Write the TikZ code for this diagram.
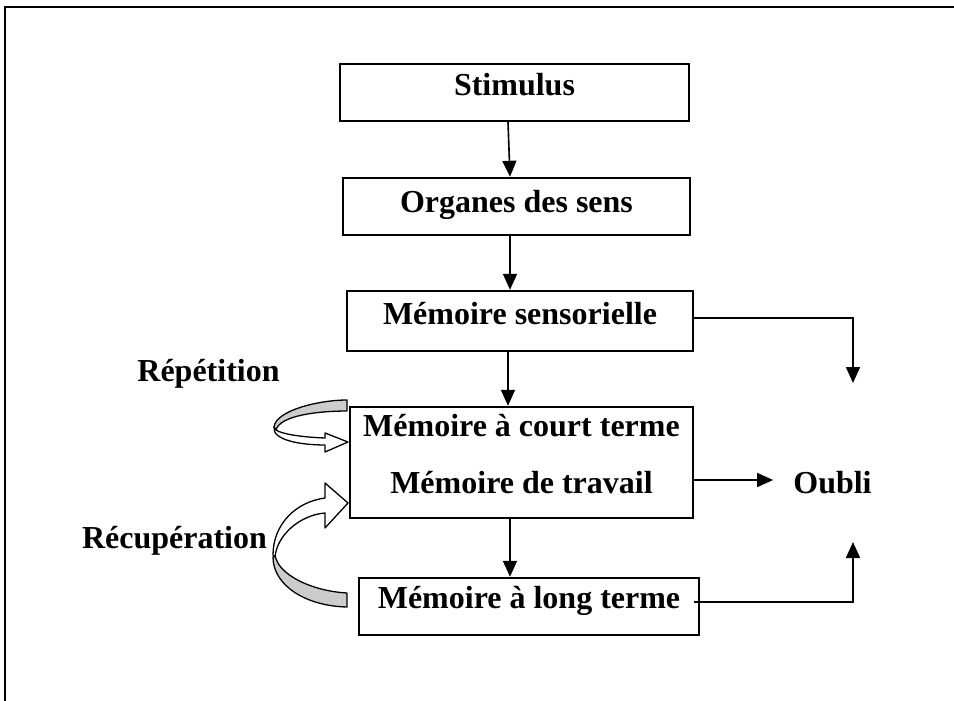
\documentclass[tikz,border=0pt]{standalone}
\usepackage{fontspec}
\setmainfont{Liberation Serif}
\usetikzlibrary{arrows.meta}
\definecolor{bandgray}{RGB}{204,204,204}
\begin{document}
\begin{tikzpicture}[x=1pt,y=-1pt,
  box/.style={draw, line width=2.4pt, inner sep=0pt, font=\fontsize{32}{56.5}\selectfont\bfseries},
  lbl/.style={inner sep=0pt, font=\fontsize{32}{38}\selectfont\bfseries},
  arr/.style={line width=1.6pt, -{Triangle[length=16pt,width=14pt]}},
  band/.style={draw, line width=1.3pt, line join=round}]
\useasboundingbox (0,0) rectangle (954,701);
\draw[line width=2.2pt] (5,701) -- (5,7) -- (954,7);

\node[box, minimum width=349pt, text height=31.5pt, text depth=25.5pt] (stim) at (514.5,92.5) {Stimulus};
\node[box, minimum width=347pt, text height=34pt, text depth=23pt] (org) at (516.5,206.5) {Organes des sens};
\node[box, minimum width=346pt, text height=33.5pt, text depth=26.5pt] (sens) at (520,321) {Mémoire sensorielle};
\node[box, minimum width=343pt, text height=86pt, text depth=25pt, align=center] (court) at (521.5,462.5) {Mémoire à court terme\\Mémoire de travail};
\node[box, minimum width=340pt, text height=30pt, text depth=27pt] (long) at (529,606.5) {Mémoire à long terme};

\node[lbl, inner xsep=20pt, anchor=base] (oubli) at (832.5,493) {Oubli};
\node[lbl, anchor=base] (rep) at (208.5,381.5) {Répétition};
\node[lbl, anchor=base] (recup) at (174.5,548.5) {Récupération};

\draw[arr] ([xshift=-6.5pt]stim.south) -- ([xshift=-6.5pt]org.north);
\draw[arr] ([xshift=-6.5pt]org.south) -- ([xshift=-10pt]sens.north);
\draw[arr] ([xshift=-12pt]sens.south) -- ([xshift=-13.5pt]court.north);
\draw[arr] ([xshift=-11.5pt]court.south) -- ([xshift=-19pt]long.north);

\coordinate (o1) at (853,383);
\coordinate (o3) at (853,542);
\coordinate (cs) at ([yshift=-17.5pt]court.east);
\draw[arr] ([yshift=3pt]sens.east) -| (o1);
\draw[arr] (cs) -- (cs -| oubli.west);
\draw[arr] ([xshift=-6pt,yshift=4.5pt]long.east) -| (o3);

% Repetition curved arrow
\draw[band, fill=bandgray] (347,400) .. controls (320,400) and (276,410) .. (274,427)
  -- (276,430) .. controls (280,415) and (320,411) .. (347,411) -- cycle;
\draw[band, fill=white] (274,427) .. controls (272,440) and (300,445) .. (325,445)
  -- (325,452) -- (348,442) -- (325,433) -- (325,438)
  .. controls (300,437) and (282,434) .. (276,430) -- cycle;

% Recuperation curved arrow
\draw[band, fill=bandgray] (275,555) .. controls (278,575) and (312,591) .. (347,593)
  -- (347,607) .. controls (305,606) and (273,585) .. (273,557) -- cycle;
\draw[band, fill=white] (325,498) .. controls (295,502) and (273,525) .. (273,555)
  -- (275,557) .. controls (277,535) and (300,515) .. (325,513)
  -- (325,528) -- (348,503) -- (325,483) -- cycle;
\end{tikzpicture}
\end{document}
